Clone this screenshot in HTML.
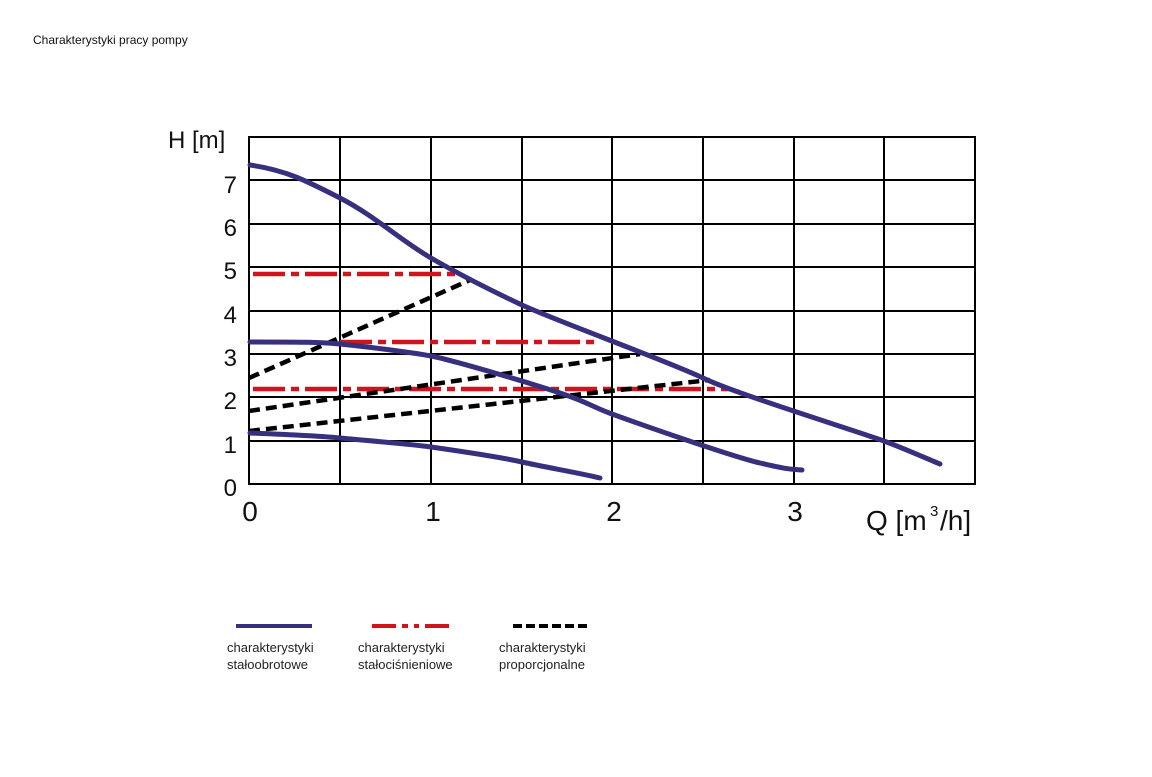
<!DOCTYPE html>
<html><head><meta charset="utf-8"><style>
html,body{margin:0;padding:0;background:#fff;}
body{width:1152px;height:772px;overflow:hidden;}
text{font-family:"Liberation Sans",sans-serif;}
</style></head><body>
<svg width="1152" height="772" viewBox="0 0 1152 772" xmlns="http://www.w3.org/2000/svg">
<text x="33" y="44" font-size="12" fill="#111">Charakterystyki pracy pompy</text>
<g stroke="#000" stroke-width="2" fill="none">
<rect x="249" y="137" width="726" height="347"/>
<path d="M340 137V484M431 137V484M522 137V484M612 137V484M703 137V484M794 137V484M884 137V484"/>
<path d="M249 180H975M249 224H975M249 267H975M249 311H975M249 354H975M249 397H975M249 441H975"/>
</g>
<g font-size="24" fill="#111" text-anchor="end">
<text x="237" y="193">7</text><text x="237" y="236">6</text><text x="237" y="279">5</text>
<text x="237" y="323">4</text><text x="237" y="366">3</text><text x="237" y="409">2</text>
<text x="237" y="453">1</text><text x="237" y="496">0</text>
</g>
<text x="168" y="148" font-size="24" fill="#111">H [m]</text>
<g font-size="28" fill="#111" text-anchor="middle">
<text x="250" y="521">0</text><text x="433" y="521">1</text><text x="614" y="521">2</text><text x="795" y="521">3</text>
</g>
<text x="866" y="530" font-size="28" fill="#111">Q [m</text><text x="930" y="516" font-size="15" fill="#111">3</text><text x="940" y="530" font-size="28" fill="#111">/h]</text>
<g stroke="#d0141e" stroke-width="4.5" fill="none" stroke-dasharray="32 6 8 6">
<path d="M253 274H455"/><path d="M340 342H600"/><path d="M253 389H730"/>
</g>
<g stroke="#000" stroke-width="4.5" fill="none" stroke-dasharray="11 6">
<path d="M249 378L470 280"/><path d="M249 411L640 354"/><path d="M249 431L710 380"/>
</g>
<g stroke="#37307f" stroke-width="5" fill="none" stroke-linecap="round">
<path d="M250 165C285 170 305 180 340 198S400 240 431 258S490 290 522 305S670 362 703 378S860 432 884 441S930 460 940 464"/>
<path d="M250 342C300 342 320 342 340 344S410 352 431 356S530 383 560 393S590 406 612 414S730 456 760 463S790 469 802 470"/>
<path d="M250 433C300 435 320 436 340 438S410 444 431 447S500 457 522 462S580 473 600 478"/>
</g>
<line x1="236" y1="626" x2="312" y2="626" stroke="#37307f" stroke-width="4"/>
<line x1="372" y1="626" x2="450" y2="626" stroke="#d0141e" stroke-width="4" stroke-dasharray="24 6 6 6 5 6"/>
<line x1="513" y1="626" x2="590" y2="626" stroke="#000" stroke-width="4" stroke-dasharray="9 4"/>
<g font-size="13" fill="#222">
<text x="227" y="652">charakterystyki</text><text x="227" y="669">stałoobrotowe</text>
<text x="358" y="652">charakterystyki</text><text x="358" y="669">stałociśnieniowe</text>
<text x="499" y="652">charakterystyki</text><text x="499" y="669">proporcjonalne</text>
</g>
</svg>
</body></html>
